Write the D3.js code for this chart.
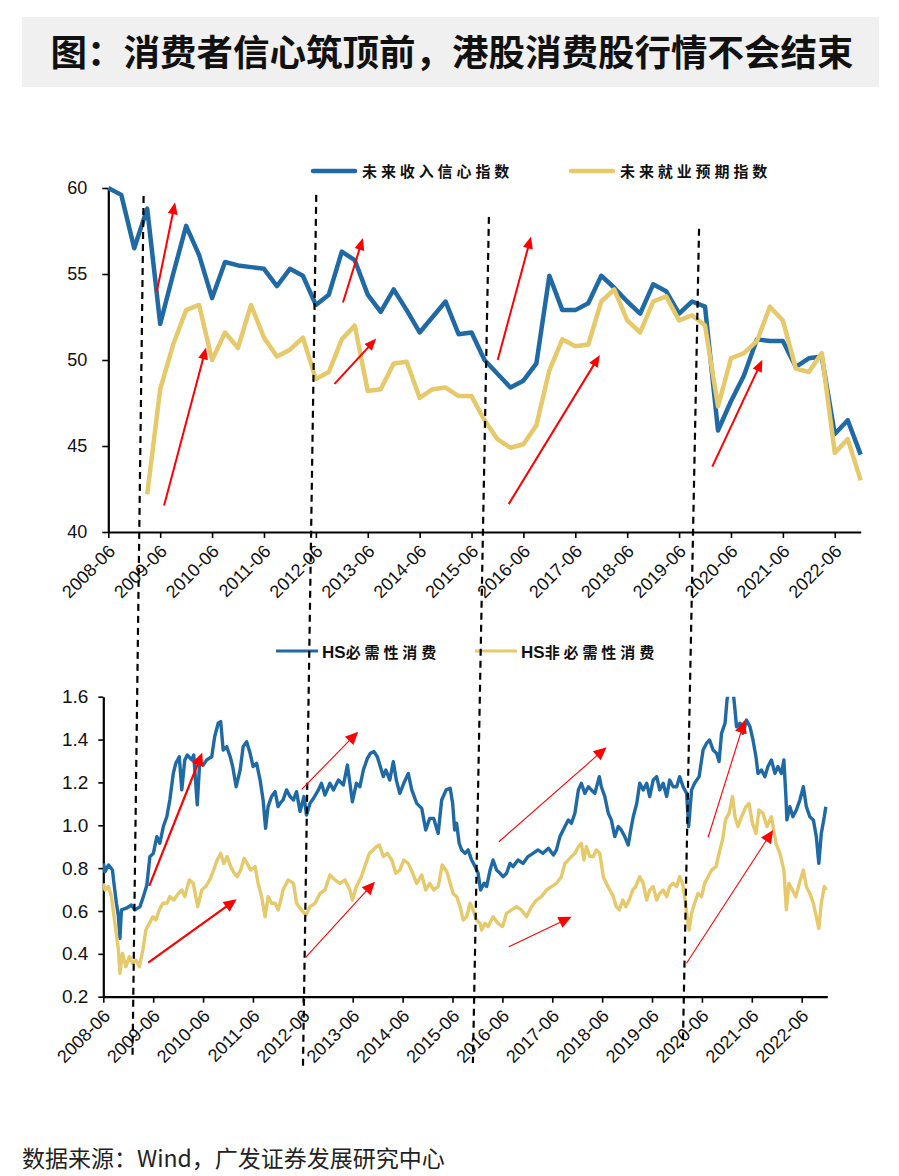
<!DOCTYPE html>
<html><head><meta charset="utf-8">
<script src="https://cdn.jsdelivr.net/npm/d3@7/dist/d3.min.js"></script>
<style>body{margin:0;background:#fff;} svg{display:block;}</style>
</head><body>
<svg id="c" width="899" height="1176"></svg>
<script>
// ---------------- DATA ----------------
const titleText = "图：消费者信心筑顶前，港股消费股行情不会结束";
const sourceText = "数据来源：Wind，广发证券发展研究中心";
const topSeriesNames = ["未来收入信心指数", "未来就业预期指数"];
const bottomSeriesNames = ["必需性消费", "非必需性消费"];
const tickLabels = ["2008-06","2009-06","2010-06","2011-06","2012-06","2013-06","2014-06","2015-06","2016-06","2017-06","2018-06","2019-06","2020-06","2021-06","2022-06"];
const topYTicks = [40,45,50,55,60];
const bottomYTicks = [0.2,0.4,0.6,0.8,1.0,1.2,1.4,1.6];

// quarterly, 2008-06 ... 2022-12 (59 quarters)
const incomeConfidence = [60.0,59.6,56.5,58.8,52.1,55.0,57.8,56.1,53.6,55.7,
  55.5,55.4,55.3,54.3,55.3,54.9,53.2,53.8,56.3,55.8,
  53.8,52.8,54.1,52.9,51.6,52.5,53.4,51.5,51.6,50.0,
  49.2,48.4,48.8,49.8,54.9,52.9,52.9,53.3,54.9,54.2,
  53.4,52.7,54.4,54.0,52.7,53.4,53.1,45.9,47.6,49.1,
  51.2,51.1,51.1,49.6,50.1,50.2,45.7,46.5,44.5];
const employmentExpect = [null,null,null,42.2,48.3,50.9,52.9,53.2,50.0,51.6,
  50.7,53.2,51.3,50.2,50.6,51.3,48.9,49.3,51.2,52.0,
  48.2,48.3,49.8,49.9,47.8,48.3,48.4,47.9,47.9,46.5,
  45.4,44.9,45.1,46.2,49.4,51.2,50.8,50.9,53.4,54.1,
  52.3,51.6,53.4,53.7,52.3,52.6,52.0,47.3,50.1,50.4,
  51.1,53.1,52.3,49.5,49.3,50.4,44.6,45.4,43.0];

// [decimal year, relative value]
const hsStaples = [[2008.42,0.822],[2008.45,0.783],[2008.52,0.815],[2008.60,0.791],[2008.63,0.729],[2008.68,0.636],[2008.72,0.574],[2008.75,0.472],[2008.78,0.605],[2008.88,0.613],[2008.98,0.628],[2009.05,0.605],[2009.15,0.620],[2009.22,0.667],[2009.29,0.721],[2009.35,0.853],[2009.42,0.869],[2009.49,0.947],[2009.55,0.916],[2009.62,0.994],[2009.69,1.040],[2009.75,1.118],[2009.82,1.242],[2009.87,1.289],[2009.94,1.320],[2009.99,1.165],[2010.05,1.305],[2010.10,1.328],[2010.19,1.305],[2010.23,1.328],[2010.30,1.095],[2010.35,1.297],[2010.42,1.281],[2010.49,1.305],[2010.59,1.320],[2010.65,1.414],[2010.72,1.476],[2010.77,1.484],[2010.82,1.351],[2010.89,1.367],[2010.96,1.320],[2011.01,1.274],[2011.08,1.180],[2011.16,1.258],[2011.22,1.367],[2011.29,1.390],[2011.36,1.336],[2011.42,1.274],[2011.49,1.289],[2011.56,1.211],[2011.62,1.118],[2011.67,0.986],[2011.72,1.087],[2011.79,1.134],[2011.86,1.157],[2011.92,1.087],
[2011.96,1.102],[2012.02,1.118],[2012.09,1.165],[2012.16,1.134],[2012.23,1.118],[2012.29,1.157],[2012.36,1.064],[2012.44,1.134],[2012.49,1.048],[2012.56,1.102],[2012.63,1.126],[2012.73,1.165],[2012.79,1.196],[2012.86,1.141],[2012.96,1.196],[2013.03,1.165],[2013.13,1.211],[2013.23,1.188],[2013.31,1.281],[2013.36,1.196],[2013.41,1.110],[2013.49,1.196],[2013.56,1.180],[2013.63,1.258],[2013.71,1.312],[2013.77,1.336],[2013.84,1.344],[2013.91,1.320],[2013.96,1.281],[2014.03,1.227],[2014.08,1.258],[2014.16,1.211],[2014.23,1.297],[2014.29,1.211],[2014.36,1.149],[2014.44,1.196],[2014.53,1.242],[2014.60,1.165],[2014.70,1.102],[2014.80,1.079],[2014.88,0.978],[2014.96,1.032],[2015.04,1.032],[2015.13,0.962],[2015.20,1.118],[2015.29,1.165],[2015.37,1.173],[2015.42,1.102],[2015.46,0.978],[2015.50,1.009],[2015.55,0.916],
[2015.60,0.885],[2015.67,0.869],[2015.73,0.885],[2015.80,0.838],[2015.87,0.807],[2015.93,0.776],[2015.98,0.698],[2016.05,0.729],[2016.10,0.714],[2016.17,0.791],[2016.23,0.838],[2016.30,0.791],[2016.37,0.776],[2016.43,0.760],[2016.50,0.776],[2016.57,0.822],[2016.63,0.807],[2016.73,0.838],[2016.83,0.822],[2016.93,0.854],[2017.03,0.869],[2017.13,0.885],[2017.23,0.869],[2017.34,0.893],[2017.44,0.861],[2017.50,0.885],[2017.57,0.947],[2017.67,0.994],[2017.74,1.025],[2017.80,1.009],[2017.87,1.056],[2017.94,1.165],[2018.00,1.196],[2018.07,1.149],[2018.14,1.180],[2018.20,1.165],[2018.27,1.149],[2018.36,1.227],[2018.40,1.180],[2018.47,1.134],[2018.54,1.056],[2018.60,1.025],[2018.67,0.947],[2018.74,0.994],[2018.80,0.978],[2018.87,0.947],[2018.94,0.908],[2018.99,0.978],[2019.04,1.040],[2019.11,1.102],
[2019.17,1.196],[2019.24,1.165],[2019.31,1.196],[2019.37,1.134],[2019.44,1.211],[2019.51,1.227],[2019.57,1.165],[2019.64,1.196],[2019.71,1.134],[2019.77,1.211],[2019.84,1.180],[2019.91,1.180],[2019.97,1.227],[2020.04,1.180],[2020.11,1.149],[2020.15,0.994],[2020.21,1.165],[2020.27,1.196],[2020.36,1.227],[2020.44,1.351],[2020.51,1.383],[2020.57,1.398],[2020.64,1.351],[2020.71,1.336],[2020.76,1.297],[2020.81,1.429],[2020.88,1.476],[2020.92,1.585],[2020.98,1.66],[2021.04,1.63],[2021.08,1.538],[2021.11,1.460],[2021.18,1.476],[2021.24,1.429],[2021.31,1.491],[2021.38,1.460],[2021.44,1.398],[2021.50,1.320],[2021.54,1.242],[2021.61,1.258],[2021.68,1.227],[2021.74,1.274],[2021.81,1.305],[2021.88,1.242],[2021.94,1.274],[2022.01,1.242],[2022.06,1.305],[2022.10,1.134],[2022.12,1.025],[2022.18,1.087],[2022.24,1.040],[2022.31,1.071],[2022.38,1.118],[2022.45,1.180],[2022.51,1.087],[2022.58,1.040],[2022.65,1.025],[2022.71,0.947],[2022.76,0.822],[2022.81,0.962],[2022.87,1.040],[2022.90,1.087]];

const hsDiscretionary = [[2008.42,0.729],[2008.45,0.698],[2008.52,0.714],[2008.58,0.667],[2008.65,0.542],[2008.72,0.418],[2008.75,0.309],[2008.80,0.402],[2008.87,0.340],[2008.94,0.387],[2009.00,0.356],[2009.07,0.371],[2009.14,0.340],[2009.21,0.418],[2009.27,0.511],[2009.34,0.542],[2009.41,0.573],[2009.47,0.558],[2009.54,0.605],[2009.61,0.636],[2009.69,0.636],[2009.75,0.667],[2009.83,0.651],[2009.92,0.682],[2009.99,0.698],[2010.05,0.667],[2010.14,0.745],[2010.22,0.729],[2010.31,0.620],[2010.39,0.698],[2010.47,0.714],[2010.55,0.745],[2010.63,0.791],[2010.70,0.838],[2010.77,0.869],[2010.83,0.822],[2010.90,0.854],[2010.97,0.807],[2011.04,0.776],[2011.10,0.760],[2011.17,0.791],[2011.24,0.846],[2011.30,0.822],[2011.37,0.791],[2011.46,0.807],[2011.52,0.729],[2011.59,0.667],[2011.66,0.573],[2011.72,0.667],[2011.79,0.636],[2011.86,0.636],[2011.92,0.605],
[2011.96,0.636],[2012.02,0.698],[2012.12,0.745],[2012.23,0.729],[2012.29,0.636],[2012.39,0.605],[2012.48,0.581],[2012.56,0.620],[2012.66,0.636],[2012.76,0.682],[2012.86,0.698],[2012.96,0.768],[2013.06,0.745],[2013.16,0.729],[2013.26,0.745],[2013.36,0.698],[2013.41,0.651],[2013.49,0.714],[2013.59,0.760],[2013.68,0.822],[2013.75,0.869],[2013.83,0.885],[2013.89,0.900],[2013.95,0.908],[2014.03,0.854],[2014.11,0.869],[2014.20,0.838],[2014.28,0.776],[2014.36,0.791],[2014.44,0.838],[2014.53,0.822],[2014.62,0.776],[2014.70,0.729],[2014.80,0.768],[2014.88,0.698],[2014.96,0.729],[2015.04,0.698],[2015.13,0.714],[2015.21,0.815],[2015.30,0.784],[2015.37,0.729],[2015.43,0.682],[2015.50,0.667],
[2015.57,0.620],[2015.63,0.558],[2015.70,0.573],[2015.77,0.636],[2015.83,0.605],[2015.90,0.558],[2015.97,0.542],[2016.00,0.511],[2016.07,0.542],[2016.13,0.527],[2016.23,0.573],[2016.33,0.542],[2016.42,0.527],[2016.50,0.589],[2016.60,0.605],[2016.70,0.620],[2016.80,0.605],[2016.90,0.573],[2017.00,0.620],[2017.10,0.651],[2017.20,0.667],[2017.30,0.698],[2017.40,0.714],[2017.50,0.729],[2017.60,0.760],[2017.67,0.822],[2017.74,0.838],[2017.80,0.854],[2017.87,0.869],[2017.94,0.900],[2018.00,0.916],[2018.05,0.838],[2018.10,0.900],[2018.17,0.854],[2018.24,0.854],[2018.30,0.885],[2018.37,0.869],[2018.44,0.760],[2018.50,0.729],[2018.57,0.698],[2018.64,0.667],[2018.70,0.620],[2018.76,0.605],[2018.83,0.651],[2018.89,0.620],[2018.96,0.651],[2019.03,0.698],[2019.09,0.714],
[2019.17,0.760],[2019.24,0.729],[2019.31,0.651],[2019.37,0.698],[2019.44,0.714],[2019.51,0.651],[2019.57,0.682],[2019.64,0.698],[2019.71,0.667],[2019.77,0.714],[2019.84,0.729],[2019.91,0.714],[2019.97,0.760],[2020.03,0.729],[2020.07,0.667],[2020.12,0.573],[2020.16,0.511],[2020.21,0.589],[2020.27,0.636],[2020.34,0.682],[2020.41,0.667],[2020.47,0.729],[2020.54,0.760],[2020.61,0.791],[2020.70,0.807],[2020.76,0.869],[2020.83,0.931],[2020.89,1.025],[2020.96,1.056],[2021.03,1.134],[2021.08,1.040],[2021.14,0.994],[2021.21,1.040],[2021.30,1.087],[2021.36,1.102],[2021.43,1.009],[2021.50,0.962],[2021.56,1.071],[2021.64,1.056],[2021.72,0.994],[2021.81,1.040],[2021.90,0.916],[2021.98,0.869],[2022.06,0.791],[2022.11,0.605],[2022.16,0.729],[2022.23,0.698],[2022.30,0.667],[2022.37,0.729],[2022.45,0.791],[2022.51,0.714],[2022.58,0.682],[2022.65,0.636],[2022.71,0.573],[2022.76,0.519],[2022.81,0.636],[2022.87,0.714],[2022.91,0.698]];

// annotations: top chart in [quarter index, value]; bottom chart in [decimal year, value]
const topArrows = [[3.73,53.95,5.15,59.17],[4.30,41.54,7.54,50.73],[18.09,53.34,19.63,57.09],[17.44,48.61,20.66,51.25],[30.02,50.0,32.59,57.18],[30.86,41.62,37.89,50.29],[46.56,43.80,50.42,50.02]];
const bottomArrows = [[2009.338,0.717,2010.401,1.339,2.2],[2009.318,0.359,2011.090,0.655,2.2],[2012.393,1.168,2013.527,1.437,1.1],[2012.473,0.384,2013.862,0.737,1.1],[2016.347,0.923,2018.505,1.364,1.1],[2016.547,0.433,2017.804,0.573,1.1],[2020.541,0.944,2021.276,1.491,1.1],[2020.108,0.356,2021.844,0.978,1.1]];
// dashed separators: top end [index, value], bottom end [year, value]
const separators = [[2.72,59.54,2009.002,-0.086],[16.03,59.60,2012.419,-0.128],[29.34,58.32,2015.826,-0.109],[45.54,57.63,2020.034,-0.035]];

// ---------------- DRAW ----------------
const svg = d3.select("#c");
const BLUE = "#1f6aa5", YEL = "#e5c96a";
const sans = "'Liberation Sans', Arial, sans-serif";
const cjk = "'Noto Sans CJK SC', sans-serif";

// title
svg.append("rect").attr("x",22).attr("y",17).attr("width",857).attr("height",70).attr("fill","#f0f0f0");
svg.append("text").attr("x",452).attr("y",66).attr("text-anchor","middle")
  .style("font-family",cjk).style("font-weight","700").style("font-size","36.5px").attr("fill","#111").text(titleText);

// top chart scales
const xT = d3.scaleLinear().domain([0,58]).range([108.3,860.7]);
const yT = d3.scaleLinear().domain([40,60]).range([532,188]);
// bottom chart scales
const xB = d3.scaleLinear().domain([2008.4167,2022.93]).range([103.3,827.3]);
const yB = d3.scaleLinear().domain([0.2,1.6]).range([996.7,696.7]);

function styleAxis(g){
  g.select(".domain").attr("stroke","#000").attr("stroke-width",2.2);
  g.selectAll(".tick line").attr("stroke","#000").attr("stroke-width",1.6);
  g.selectAll("text").attr("fill","#111").style("font-family",sans);
}
function rotateLabels(g){
  g.selectAll(".tick text").attr("text-anchor","end").attr("dy","0.35em")
   .attr("transform","translate(3,16) rotate(-45)").attr("y",0).attr("x",0)
   .style("font-size","18px");
}

// top axes
const gTy = svg.append("g").attr("transform","translate(108.3,0)")
  .call(d3.axisLeft(yT).tickValues(topYTicks).tickSize(6).tickSizeOuter(0).tickPadding(15));
styleAxis(gTy); gTy.selectAll("text").style("font-size","18px");
const gTx = svg.append("g").attr("transform","translate(0,532)")
  .call(d3.axisBottom(xT).tickValues(d3.range(0,57,4)).tickFormat((d,i)=>tickLabels[i]).tickSize(6).tickSizeOuter(0));
styleAxis(gTx); rotateLabels(gTx);

// top lines
const lineT = d3.line().defined(d=>d[1]!=null).x(d=>xT(d[0])).y(d=>yT(d[1]));
svg.append("path").datum(incomeConfidence.map((v,i)=>[i,v])).attr("d",lineT)
  .attr("fill","none").attr("stroke",BLUE).attr("stroke-width",4.5).attr("stroke-linejoin","round");
svg.append("path").datum(employmentExpect.map((v,i)=>[i,v])).attr("d",lineT)
  .attr("fill","none").attr("stroke",YEL).attr("stroke-width",4.5).attr("stroke-linejoin","round");

// top legend
const legT = [{x:313,c:BLUE,name:topSeriesNames[0]},{x:571,c:YEL,name:topSeriesNames[1]}];
legT.forEach(l=>{
  svg.append("line").attr("x1",l.x).attr("x2",l.x+42).attr("y1",171).attr("y2",171)
    .attr("stroke",l.c).attr("stroke-width",4.5).attr("stroke-linecap","round");
  svg.append("text").attr("x",l.x+49).attr("y",176.5).style("font-family",cjk).style("font-weight","700")
    .style("font-size","15px").style("letter-spacing","3.9px").attr("fill","#111").text(l.name);
});

// bottom axes
const gBy = svg.append("g").attr("transform","translate(103.3,0)")
  .call(d3.axisLeft(yB).tickValues(bottomYTicks).tickFormat(d3.format(".1f")).tickSize(5).tickSizeOuter(0).tickPadding(10));
styleAxis(gBy); gBy.selectAll("text").style("font-size","19px");
const gBx = svg.append("g").attr("transform","translate(0,996.7)")
  .call(d3.axisBottom(xB).tickValues(tickLabels.map((d,i)=>2008.4167+i)).tickFormat((d,i)=>tickLabels[i]).tickSize(6).tickSizeOuter(0));
styleAxis(gBx); rotateLabels(gBx);

// bottom lines (clipped to plot area)
svg.append("clipPath").attr("id","clipB").append("rect").attr("x",103).attr("y",696.7).attr("width",726).attr("height",300);
const lineB = d3.line().x(d=>xB(d[0])).y(d=>yB(d[1]));
const gLines = svg.append("g").attr("clip-path","url(#clipB)");
gLines.append("path").datum(hsStaples).attr("d",lineB).attr("fill","none").attr("stroke",BLUE).attr("stroke-width",3.4).attr("stroke-linejoin","round");
gLines.append("path").datum(hsDiscretionary).attr("d",lineB).attr("fill","none").attr("stroke",YEL).attr("stroke-width",3.4).attr("stroke-linejoin","round");

// bottom legend
const legB = [{x:276,c:BLUE,name:bottomSeriesNames[0]},{x:475,c:YEL,name:bottomSeriesNames[1]}];
legB.forEach(l=>{
  svg.append("line").attr("x1",l.x).attr("x2",l.x+42).attr("y1",651).attr("y2",651)
    .attr("stroke",l.c).attr("stroke-width",3.2);
  const t = svg.append("text").attr("x",l.x+46).attr("y",657.5).attr("fill","#111");
  t.append("tspan").style("font-family",sans).style("font-weight","700").style("font-size","17px").text("HS");
  t.append("tspan").style("font-family",cjk).style("font-weight","700").style("font-size","15px").style("letter-spacing","3.9px").text(l.name);
});

// dashed separators
separators.forEach(s=>{
  svg.append("line").attr("x1",xT(s[0])).attr("y1",yT(s[1])).attr("x2",xB(s[2])).attr("y2",yB(s[3]))
    .attr("stroke","#000").attr("stroke-width",2.2).attr("stroke-dasharray","7,5");
});

// arrows
function arrow(x1,y1,x2,y2,w,hl,hw){
  const dx=x2-x1, dy=y2-y1, L=Math.hypot(dx,dy), ux=dx/L, uy=dy/L;
  const bx=x2-ux*hl, by=y2-uy*hl;
  svg.append("line").attr("x1",x1).attr("y1",y1).attr("x2",bx+ux*1).attr("y2",by+uy*1)
    .attr("stroke","#ff0000").attr("stroke-width",w);
  svg.append("path").attr("d",`M${x2},${y2}L${bx-uy*hw/2},${by+ux*hw/2}L${bx+uy*hw/2},${by-ux*hw/2}Z`).attr("fill","#ff0000");
}
topArrows.forEach(a=>arrow(xT(a[0]),yT(a[1]),xT(a[2]),yT(a[3]),2,12,10));
bottomArrows.forEach(a=>arrow(xB(a[0]),yB(a[1]),xB(a[2]),yB(a[3]),a[4],13,12));

// source
svg.append("text").attr("x",22).attr("y",1167).style("font-family",cjk).style("font-size","23px").attr("fill","#222").text(sourceText);
</script>
</body></html>
